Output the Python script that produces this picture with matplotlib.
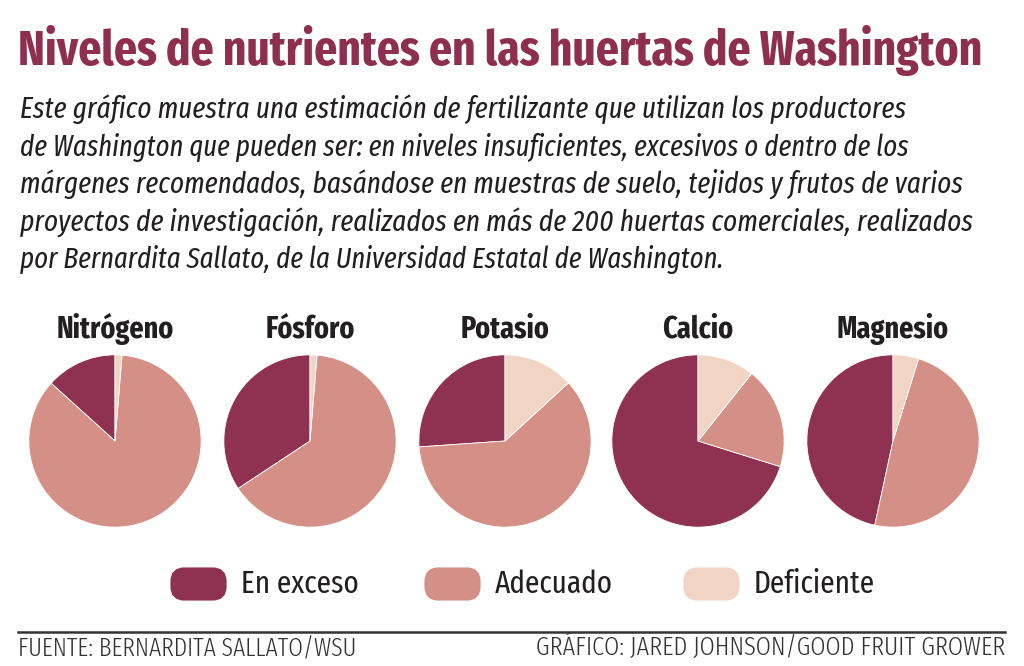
import matplotlib
matplotlib.use("Agg")
import matplotlib.pyplot as plt
from matplotlib import font_manager
from matplotlib.patches import FancyBboxPatch

# datos (porcentajes estimados)
nutrientes = ["Nitrógeno", "Fósforo", "Potasio", "Calcio", "Magnesio"]
categorias = ["En exceso", "Adecuado", "Deficiente"]
en_exceso = [13.3, 34.3, 26.1, 70.2, 46.6]
adecuado = [85.4, 64.4, 60.7, 19.1, 48.6]
deficiente = [1.3, 1.3, 13.2, 10.7, 4.8]

colores = ["#8f3150", "#d48f86", "#f2d4c5"]
titulo = "Niveles de nutrientes en las huertas de Washington"
subtitulo = [
    "Este gráfico muestra una estimación de fertilizante que utilizan los productores",
    "de Washington que pueden ser: en niveles insuficientes, excesivos o dentro de los",
    "márgenes recomendados, basándose en muestras de suelo, tejidos y frutos de varios",
    "proyectos de investigación, realizados en más de 200 huertas comerciales, realizados",
    "por Bernardita Sallato, de la Universidad Estatal de Washington.",
]
fuente = "FUENTE: BERNARDITA SALLATO/WSU"
grafico = "GRÁFICO: JARED JOHNSON/GOOD FRUIT GROWER"

disponibles = {f.name for f in font_manager.fontManager.ttflist}


def familia(*opciones):
    for o in opciones:
        if o in disponibles:
            return [o, "DejaVu Sans"]
    return ["DejaVu Sans"]


extra = familia("Fira Sans Extra Condensed", "Fira Sans Condensed", "PT Sans Narrow")

W, H = 1024, 666
fig = plt.figure(figsize=(W / 100, H / 100), dpi=100)
fondo = fig.add_axes([0, 0, 1, 1])
fondo.set_xlim(0, W)
fondo.set_ylim(H, 0)
fondo.axis("off")

fig.canvas.draw()
renderer = fig.canvas.get_renderer()


def tam_ajustado(s, ancho, size=20, **kw):
    # tamaño de letra que ocupa el ancho deseado (en pixeles)
    t = fondo.text(0, 0, s, fontsize=size, **kw)
    bb = t.get_window_extent(renderer=renderer)
    t.remove()
    return size * ancho / bb.width


def texto_ajustado(x, y, s, ancho, **kw):
    return fondo.text(x, y, s, fontsize=tam_ajustado(s, ancho, **kw), **kw)


estilo_tit = dict(family=extra, weight="bold")
texto_ajustado(18, 65, titulo, 967, color="#8e2f4f", va="baseline", **estilo_tit)

anchos_sub = [887, 890, 944, 953, 705]
estilo_sub = dict(family=extra, style="italic", weight=400)
for i, linea in enumerate(subtitulo):
    texto_ajustado(20, 118 + i * 37.5, linea, anchos_sub[i], color="#231f20",
                   va="baseline", **estilo_sub)

centros = [115, 310, 505, 698, 893]
radio = 87
cy = 441
estilo_pie = dict(family=extra, weight="bold")
tam_pie = tam_ajustado(nutrientes[0], 118, **estilo_pie)
for i, nombre in enumerate(nutrientes):
    cx = centros[i]
    ax = fig.add_axes([(cx - radio) / W, (H - cy - radio) / H, 2 * radio / W, 2 * radio / H])
    ax.pie([en_exceso[i], adecuado[i], deficiente[i]], colors=colores,
           startangle=90, counterclock=True, radius=1,
           wedgeprops=dict(linewidth=0.6, edgecolor="white"))
    ax.set_xlim(-1.01, 1.01)
    ax.set_ylim(-1.01, 1.01)
    ax.set_aspect("equal")
    fondo.text(cx, 338, nombre, ha="center", va="baseline", fontsize=tam_pie,
               color="#231f20", **estilo_pie)

# leyenda
cajas = [168, 422, 681]
estilo_ley = dict(family=extra, weight=400)
tam_ley = tam_ajustado(categorias[0], 118, **estilo_ley)
for i, cat in enumerate(categorias):
    fondo.add_patch(FancyBboxPatch((cajas[i] + 8, 573), 45, 22,
                                   boxstyle="round,pad=0,rounding_size=8",
                                   mutation_aspect=1, linewidth=8,
                                   edgecolor=colores[i], facecolor=colores[i]))
    fondo.text(cajas[i] + 73, 593, cat, ha="left", va="baseline", fontsize=tam_ley,
               color="#231f20", **estilo_ley)

fondo.plot([18, 1005], [632, 632], color="#333333", linewidth=1.8)
estilo_pie_pag = dict(family=extra, weight=300)
texto_ajustado(18, 655, fuente, 339, ha="left", va="baseline",
               color="#333333", **estilo_pie_pag)
texto_ajustado(1005, 655, grafico, 470, ha="right", va="baseline",
               color="#333333", **estilo_pie_pag)

fig.savefig("out.png", dpi=100)
